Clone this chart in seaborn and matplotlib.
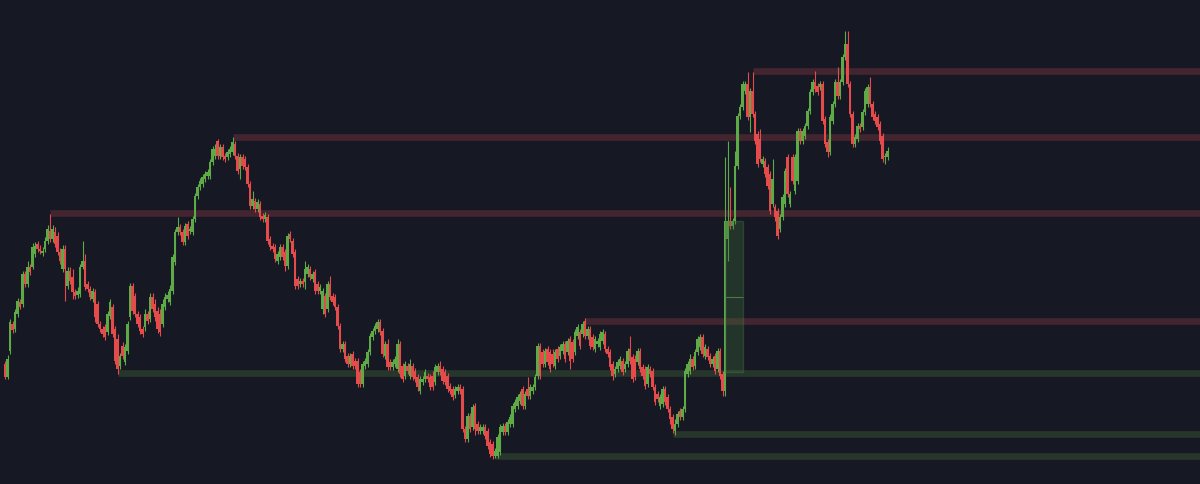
import numpy as np
import pandas as pd
import matplotlib
matplotlib.use("Agg")
import matplotlib.pyplot as plt
import seaborn as sns
from matplotlib.patches import Rectangle

# ---- OHLC data (price units) ----
opens = [135,122,148,175,170,185,197,195,225,215,232,232,245,255,250,246,250,258,268,260,
         267,263,247,230,250,213,228,222,207,204,205,232,238,215,210,200,207,195,175,170,
         172,167,183,192,170,160,133,153,137,148,182,213,203,185,182,170,172,185,180,202,
         195,188,185,175,192,200,197,208,237,267,272,267,257,275,268,267,280,303,312,315,
         320,323,323,337,343,358,343,352,343,342,345,347,355,343,330,342,340,332,315,293,
         298,290,295,283,280,282,260,253,252,238,242,252,247,233,265,258,247,220,215,218,
         217,225,230,220,227,215,208,190,203,190,215,203,202,192,173,150,155,143,135,145,
         138,138,127,115,133,135,147,162,168,170,177,168,143,155,137,132,135,130,155,133,
         123,133,123,133,128,122,108,117,120,123,122,123,117,127,133,130,127,123,113,110,
         104,108,112,110,70,60,83,72,93,75,68,68,72,68,57,55,43,43,47,67,
         73,67,75,75,90,93,98,110,93,110,103,108,112,123,153,147,135,150,147,145,
         133,150,143,148,155,147,160,157,147,163,167,165,178,163,170,162,150,155,152,158,
         165,150,147,135,125,130,133,138,130,135,150,142,140,137,148,132,130,115,130,128,
         112,105,93,95,110,102,90,82,68,75,88,82,90,125,128,140,133,147,152,162,
         143,150,143,135,143,130,148,125,108,260,278,273,278,333,383,392,408,415,382,408,
         385,365,360,335,338,332,325,295,292,288,270,282,295,342,295,342,308,318,368,358,
         363,373,388,407,417,413,412,415,380,357,347,378,395,417,403,417,442,455,415,385,
         355,360,373,372,387,395,412,395,385,382,375,363,342,342]
highs = [138,144,180,178,190,201,200,228,228,238,235,256,257,258,254,252,262,274,285,274,
         272,267,251,254,254,232,232,230,210,212,235,258,245,218,213,211,210,198,178,173,
         175,188,200,195,173,165,146,157,155,178,216,216,206,188,185,173,190,188,206,206,
         200,192,190,200,206,208,214,245,270,282,275,270,276,278,273,283,306,315,321,325,
         328,330,340,353,355,360,355,355,346,350,353,362,358,346,345,345,343,335,318,308,
         301,300,298,286,287,285,263,256,255,248,255,255,250,266,268,261,250,223,221,221,
         238,235,233,228,230,218,215,211,206,218,223,206,205,195,176,158,158,146,146,148,
         141,141,130,138,141,150,166,171,176,180,180,171,158,160,140,140,143,160,158,136,
         138,136,140,136,131,125,123,123,130,126,125,128,135,136,138,133,130,126,116,113,
         113,115,115,113,73,86,86,95,96,78,75,75,75,71,60,58,51,65,75,76,
         76,80,85,96,100,105,108,113,108,122,115,115,125,156,156,150,151,153,150,150,
         150,153,155,158,158,161,163,160,170,175,170,178,181,173,173,165,163,161,168,170,
         168,153,150,138,133,140,143,141,138,151,163,145,144,151,151,135,133,135,133,131,
         115,108,105,113,113,105,93,85,80,88,91,93,131,138,145,143,150,163,165,165,
         155,153,146,143,146,151,151,128,342,358,312,281,348,386,395,418,418,427,411,427,
         388,368,370,343,341,335,328,340,295,291,285,305,331,345,308,345,345,371,371,371,
         376,391,410,420,428,416,418,418,383,360,385,398,420,432,420,445,468,468,418,388,
         365,376,376,390,411,415,422,398,388,385,378,366,346,352]
lows = [120,120,145,166,167,182,190,192,212,212,224,230,242,247,245,243,247,255,257,257,
        252,244,235,227,198,210,215,200,200,201,202,230,209,207,199,197,177,172,167,162,
        159,164,180,162,135,125,130,140,134,145,179,185,182,172,165,162,168,175,177,187,
        178,166,163,172,189,197,194,205,234,264,264,254,254,260,265,264,277,300,309,312,
        317,320,320,334,340,340,340,339,337,339,342,344,340,325,320,330,329,312,290,290,
        287,287,279,277,277,255,249,247,237,235,239,239,228,230,257,242,210,210,212,212,
        210,222,219,217,205,205,205,185,182,187,199,194,189,170,147,147,137,132,132,130,
        130,112,112,112,130,132,144,159,165,167,164,142,140,129,129,129,132,127,122,117,
        120,125,120,119,117,108,105,114,117,117,109,109,114,124,124,115,114,107,105,99,
        101,105,105,67,57,57,67,69,64,65,65,65,60,50,42,40,41,41,44,64,
        64,64,72,72,87,90,95,90,90,100,100,105,109,120,120,132,132,134,127,132,
        130,137,140,145,137,144,130,137,144,160,150,162,160,160,150,149,147,152,149,155,
        147,142,129,119,122,127,130,124,127,132,135,117,119,134,127,120,110,112,122,109,
        94,97,90,92,94,87,75,66,64,72,79,79,87,122,125,129,130,144,149,142,
        140,139,132,132,125,127,120,103,103,238,270,270,275,330,380,389,405,379,367,382,
        355,332,337,332,322,310,285,292,278,260,267,279,292,302,292,315,305,315,355,355,
        360,370,385,404,407,404,409,375,352,342,344,375,392,400,400,414,439,412,382,352,
        352,357,367,369,384,392,392,379,375,369,355,337,335,339]
closes = [122,140,177,169,187,198,192,225,215,232,227,252,253,250,248,248,258,270,260,270,
          255,247,238,250,230,228,218,207,203,208,232,238,212,210,202,208,182,175,170,165,
          162,185,197,165,138,130,143,143,152,175,213,188,185,175,168,165,185,178,202,190,
          182,170,167,195,202,204,210,242,267,272,267,257,273,263,270,280,303,312,318,322,
          325,327,337,350,350,343,352,342,340,347,350,357,343,328,342,333,332,315,293,300,
          290,297,282,280,284,258,252,250,240,245,252,242,233,263,260,245,213,213,218,215,
          230,232,222,225,208,208,212,208,185,215,202,197,192,173,150,155,140,135,143,133,
          133,115,115,135,138,147,163,168,173,177,167,145,155,132,132,137,140,155,125,120,
          135,128,135,122,120,112,120,120,127,120,112,112,132,133,127,118,117,110,108,102,
          110,112,108,70,60,83,70,92,70,68,72,72,63,53,45,43,48,62,72,73,
          67,77,82,93,97,102,105,93,105,103,112,112,122,153,123,135,148,137,130,135,
          147,140,152,155,140,158,138,140,167,172,153,175,163,170,153,152,160,158,165,167,
          150,145,132,123,130,137,140,127,135,148,138,120,122,148,130,123,113,132,125,112,
          97,100,102,110,97,90,80,70,75,85,82,90,128,135,140,132,147,160,162,145,
          152,142,135,140,128,148,123,108,278,278,273,278,333,383,392,415,415,382,408,385,
          358,335,340,340,325,313,288,320,282,263,282,302,328,305,305,318,342,368,358,368,
          373,388,407,417,410,407,415,378,355,347,382,395,417,403,417,442,455,415,385,355,
          362,373,370,387,408,412,395,382,378,372,358,340,343,348]

# ---- horizontal levels (price, starting candle index, kind) ----
level_prices = [428, 362, 286, 178, 126, 65, 43]
level_starts = [299, 91, 18, 232, 45, 267, 196]
level_kinds = ["res", "res", "res", "res", "sup", "sup", "sup"]

# ---- highlighted zone (candle index range, price range) ----
zone_start, zone_end = 288.0, 295.0
zone_top, zone_bottom, zone_mid = 278, 127, 202

BG = "#161824"
UP = "#5daa47"
DOWN = "#e64b4b"
RES = "#43252f"
SUP = "#27362b"

sns.set_theme(style="dark", rc={"axes.facecolor": BG, "figure.facecolor": BG})

df = pd.DataFrame({"open": opens, "high": highs, "low": lows, "close": closes})
df["idx"] = np.arange(len(df))
df["up"] = df["close"] >= df["open"]

fig = plt.figure(figsize=(12, 4.85), dpi=100)
ax = fig.add_axes([0, 0, 1, 1])
ax.set_facecolor(BG)

# candle spacing on screen: ~2.5 px per candle, first candle ~5 px from left
step_px, first_px = 2.5, 5.0
xmin = -first_px / step_px
xmax = (1200 - first_px) / step_px

for p, s, k in zip(level_prices, level_starts, level_kinds):
    ax.hlines(p, s, xmax + 5, colors=RES if k == "res" else SUP, lw=4.8, zorder=1)

colors = np.where(df["up"], UP, DOWN)
ax.vlines(df["idx"], df["low"], df["high"], colors=colors, lw=0.8, zorder=2)
body_bottom = np.minimum(df["open"], df["close"])
body_h = np.maximum(np.abs(df["close"] - df["open"]), 1.0)
ax.bar(df["idx"], body_h, bottom=body_bottom, width=0.85, color=colors,
       linewidth=0, zorder=3)

ax.add_patch(Rectangle((zone_start, zone_bottom), zone_end - zone_start,
                       zone_top - zone_bottom, facecolor="#3d6a3a", alpha=0.35,
                       edgecolor="#4a7a45", lw=1.0, zorder=4))
ax.hlines(zone_mid, zone_start, zone_end, colors="#4a7a45", lw=0.8, zorder=4)

ax.set_xlim(xmin, xmax)
ax.set_ylim(15, 500)
ax.axis("off")

fig.savefig("out.png", dpi=100, facecolor=BG)
